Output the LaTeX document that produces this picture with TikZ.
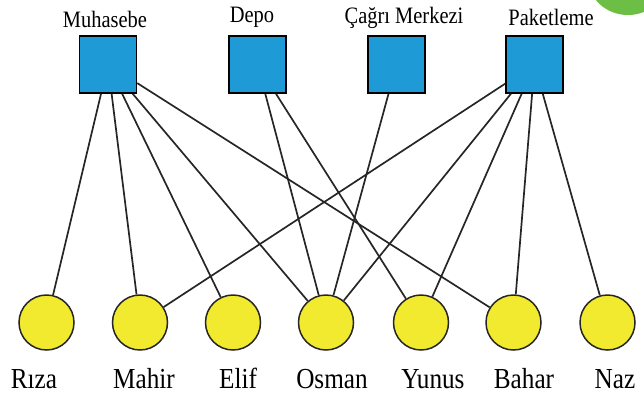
\documentclass[tikz,border=0pt]{standalone}
\usepackage{fontspec}
\setmainfont{Liberation Serif}
\newfontfamily\narrowserif[FakeStretch=0.87]{Liberation Serif}

\definecolor{deptblue}{HTML}{1E9BD7}
\definecolor{staffyellow}{HTML}{F2EA2E}
\definecolor{cornergreen}{HTML}{6DBE45}
\definecolor{edgegray}{HTML}{262626}

\tikzset{
	dept/.style = {draw = black, line width = 1.5bp, fill = deptblue, minimum size = 57bp, inner sep = 0pt},
	staff/.style = {circle, draw = black!85, line width = 1.5bp, fill = staffyellow, minimum size = 55bp, inner sep = 0pt},
	deptlabel/.style = {anchor = base, inner sep = 0pt, font = \narrowserif\fontsize{23.5bp}{26bp}\selectfont},
	stafflabel/.style = {anchor = base, inner sep = 0pt, font = \narrowserif\fontsize{29bp}{32bp}\selectfont},
	link/.style = {edgegray, line width = 1.7bp}
}

\begin{document}
\begin{tikzpicture}[x = 1bp, y = -1bp]

	\useasboundingbox (0, 0) rectangle (644, 396);

	% Corner mark

	\fill [cornergreen] (628, -22) ellipse [x radius = 40, y radius = 37];

	% Departments

	\node [dept] (muhasebe) at (108, 64.5) {};
	\node [dept] (depo) at (257.5, 64.5) {};
	\node [dept] (cagri) at (396.5, 64.5) {};
	\node [dept] (paket) at (534.5, 64.5) {};

	\node [deptlabel] (muhasebe-l) at (105, 27) {Muhasebe};
	\node [deptlabel] (depo-l) at (252, 22) {Depo};
	\node [deptlabel] (cagri-l) at (404, 23) {Çağrı Merkezi};
	\node [deptlabel] (paket-l) at (551, 25) {Paketleme};

	% Staff

	\foreach \name/\x/\lx/\txt in {riza/46.5/34/Rıza, mahir/140/144/Mahir, elif/233/238/Elif, osman/326/332/Osman, yunus/421/433/Yunus, bahar/513.5/524/Bahar, naz/607.5/615/Naz}
	{
		\node [staff] (\name) at (\x, 322.5) {};
		\node [stafflabel] (\name-l) at (\lx, 388) {\txt};
	}

	% Links

	\foreach \s in {riza, mahir, elif, osman, bahar}
		\draw [link] (muhasebe) -- (\s);

	\foreach \s in {osman, yunus}
		\draw [link] (depo) -- (\s);

	\draw [link] (cagri) -- (osman);

	\foreach \s in {mahir, osman, yunus, bahar, naz}
		\draw [link] (paket) -- (\s);

\end{tikzpicture}
\end{document}
